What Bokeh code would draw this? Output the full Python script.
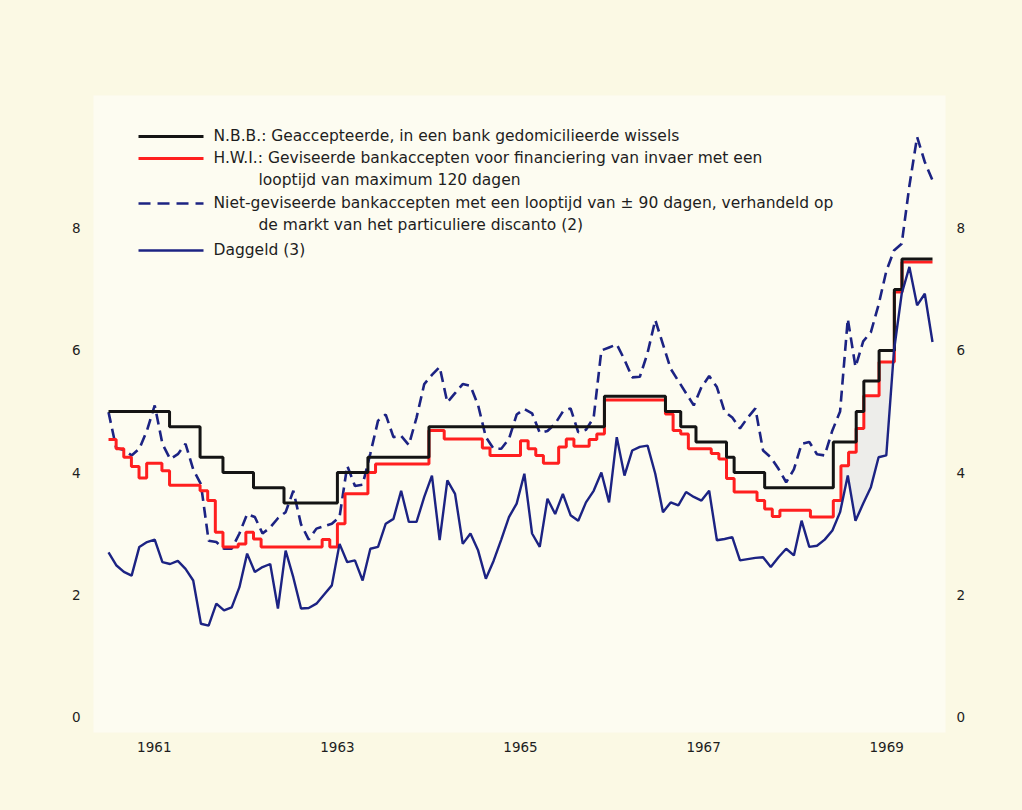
import numpy as np
from bokeh.plotting import figure
from bokeh.models import FixedTicker, LinearAxis, Range1d, Label, Arrow
from bokeh.embed import file_html
from bokeh.resources import INLINE

# ---------------- data (monthly, Jan 1961 - Dec 1969) ----------------
year_labels = ["1961", "1963", "1965", "1967", "1969"]
year_tick_pos = [1961.5, 1963.5, 1965.5, 1967.5, 1969.5]
y_ticks = [0, 2, 4, 6, 8]

nbb = [
    5.0, 5.0, 5.0, 5.0, 5.0, 5.0, 5.0, 5.0, 4.75, 4.75, 4.75, 4.75,
    4.25, 4.25, 4.25, 4.0, 4.0, 4.0, 4.0, 3.75, 3.75, 3.75, 3.75, 3.5,
    3.5, 3.5, 3.5, 3.5, 3.5, 3.5, 4.0, 4.0, 4.0, 4.0, 4.25, 4.25,
    4.25, 4.25, 4.25, 4.25, 4.25, 4.25, 4.75, 4.75, 4.75, 4.75, 4.75, 4.75,
    4.75, 4.75, 4.75, 4.75, 4.75, 4.75, 4.75, 4.75, 4.75, 4.75, 4.75, 4.75,
    4.75, 4.75, 4.75, 4.75, 4.75, 5.25, 5.25, 5.25, 5.25, 5.25, 5.25, 5.25,
    5.25, 5.0, 5.0, 4.75, 4.75, 4.5, 4.5, 4.5, 4.5, 4.25, 4.0, 4.0,
    4.0, 4.0, 3.75, 3.75, 3.75, 3.75, 3.75, 3.75, 3.75, 3.75, 3.75, 4.5,
    4.5, 4.5, 5.0, 5.5, 5.5, 6.0, 6.0, 7.0, 7.5, 7.5, 7.5, 7.5,
]

hwi = [
    4.54, 4.39, 4.25, 4.10, 3.91, 4.15, 4.15, 4.03, 3.79, 3.79, 3.79, 3.79,
    3.70, 3.54, 3.02, 2.78, 2.78, 2.83, 3.02, 2.91, 2.78, 2.78, 2.78, 2.78,
    2.78, 2.78, 2.78, 2.78, 2.90, 2.78, 3.16, 3.65, 3.65, 3.65, 4.00, 4.14,
    4.14, 4.14, 4.14, 4.14, 4.14, 4.14, 4.69, 4.69, 4.55, 4.55, 4.55, 4.55,
    4.55, 4.40, 4.28, 4.28, 4.28, 4.28, 4.52, 4.39, 4.28, 4.15, 4.15, 4.42,
    4.55, 4.43, 4.43, 4.54, 4.63, 5.19, 5.19, 5.19, 5.19, 5.19, 5.19, 5.19,
    5.19, 4.96, 4.69, 4.63, 4.39, 4.39, 4.39, 4.31, 4.22, 3.90, 3.68, 3.68,
    3.68, 3.54, 3.40, 3.28, 3.38, 3.38, 3.38, 3.38, 3.27, 3.27, 3.27, 3.54,
    4.11, 4.33, 4.72, 5.26, 5.26, 5.81, 5.81, 6.96, 7.45, 7.45, 7.45, 7.45,
]

niet = [
    4.99, 4.40, 4.37, 4.28, 4.39, 4.69, 5.10, 4.47, 4.22, 4.30, 4.47, 4.05,
    3.81, 2.88, 2.86, 2.75, 2.75, 3.00, 3.32, 3.27, 3.00, 3.10, 3.25, 3.35,
    3.70, 3.15, 2.90, 3.08, 3.12, 3.16, 3.27, 4.11, 3.78, 3.80, 4.31, 4.85,
    4.95, 4.58, 4.60, 4.45, 4.90, 5.45, 5.60, 5.73, 5.15, 5.30, 5.45, 5.42,
    5.10, 4.58, 4.39, 4.39, 4.55, 4.95, 5.04, 4.97, 4.65, 4.68, 4.80, 5.00,
    5.05, 4.66, 4.70, 4.90, 6.00, 6.05, 6.10, 5.85, 5.56, 5.57, 5.96, 6.50,
    6.10, 5.70, 5.50, 5.30, 5.10, 5.40, 5.58, 5.40, 5.00, 4.90, 4.72, 4.90,
    5.05, 4.36, 4.25, 4.06, 3.84, 4.05, 4.47, 4.50, 4.30, 4.28, 4.69, 5.00,
    6.52, 5.73, 6.15, 6.30, 6.75, 7.30, 7.64, 7.75, 8.70, 9.50, 9.09, 8.79,
]

daggeld = [
    2.69, 2.48, 2.37, 2.31, 2.78, 2.86, 2.90, 2.53, 2.50, 2.55, 2.42, 2.23,
    1.52, 1.49, 1.85, 1.74, 1.79, 2.12, 2.67, 2.37, 2.45, 2.50, 1.77, 2.72,
    2.28, 1.77, 1.78, 1.85, 2.00, 2.15, 2.83, 2.53, 2.56, 2.23, 2.75, 2.78,
    3.16, 3.24, 3.70, 3.19, 3.19, 3.60, 3.95, 2.89, 3.87, 3.65, 2.83, 3.00,
    2.72, 2.26, 2.55, 2.90, 3.27, 3.49, 3.98, 3.00, 2.78, 3.57, 3.32, 3.65,
    3.30, 3.21, 3.51, 3.70, 4.00, 3.51, 4.58, 3.95, 4.36, 4.42, 4.44, 3.98,
    3.35, 3.51, 3.46, 3.68, 3.60, 3.54, 3.70, 2.89, 2.91, 2.94, 2.56, 2.58,
    2.60, 2.61, 2.45, 2.61, 2.75, 2.64, 3.21, 2.78, 2.80, 2.90, 3.05, 3.35,
    3.95, 3.21, 3.49, 3.76, 4.25, 4.28, 6.00, 6.93, 7.37, 6.74, 6.93, 6.14,
]

legend_texts = [
    "N.B.B.: Geaccepteerde, in een bank gedomicilieerde wissels",
    "H.W.I.: Geviseerde bankaccepten voor financiering van invaer met een",
    "looptijd van maximum 120 dagen",
    "Niet-geviseerde bankaccepten met een looptijd van \u00b1 90 dagen, verhandeld op",
    "de markt van het particuliere discanto  (2)",
    "Daggeld  (3)",
]

# ---------------- styling ----------------
PAGE_BG = "#fbf9e4"
PANEL_BG = "#fdfcf1"
SHADE = "#ededea"
BLACK = "#141414"
RED = "#ff1f1f"
NAVY = "#1c2383"
TEXT = "#1e1e1e"
FONT = "DejaVu Sans"

X0, X1 = 1960.836, 1970.142
Y0, Y1 = -0.262, 10.18

p = figure(width=1014, height=802, output_backend="svg", toolbar_location=None,
           x_range=Range1d(X0, X1), y_range=Range1d(Y0, Y1),
           min_border_left=93, min_border_right=69, min_border_top=95,
           min_border_bottom=70, x_axis_location=None, y_axis_location=None)
p.background_fill_color = PANEL_BG
p.border_fill_color = PAGE_BG
p.outline_line_color = None
p.grid.visible = False


def style_axis(ax, standoff):
    ax.axis_line_color = None
    ax.major_tick_line_color = None
    ax.minor_tick_line_color = None
    ax.major_tick_out = 0
    ax.major_tick_in = 0
    ax.major_label_standoff = standoff
    ax.major_label_text_font = FONT
    ax.major_label_text_font_size = "13.5px"
    ax.major_label_text_color = TEXT


xaxis = LinearAxis(ticker=FixedTicker(ticks=year_tick_pos),
                   major_label_overrides={t: l for t, l in zip(year_tick_pos, year_labels)})
style_axis(xaxis, 9)
p.add_layout(xaxis, "below")

for side, so in (("left", 13), ("right", 11)):
    ax = LinearAxis(ticker=FixedTicker(ticks=y_ticks))
    style_axis(ax, so)
    p.add_layout(ax, side)

# x positions
n = len(nbb)
month_start = 1961 + np.arange(n) / 12.0
step_x = np.append(month_start, 1970.0)
line_x = 1961 + np.arange(n) * 9.0 / (n - 1)

# light shading between H.W.I. and daggeld during the 1968-69 rise
gx = np.linspace(1961 + 95.4 / 12, 1961 + 102.9 / 12, 300)
g_top = np.asarray(hwi)[np.clip(((gx - 1961) * 12).astype(int), 0, n - 1)]
g_bot = np.interp(gx, line_x, daggeld)
p.varea(x=gx, y1=g_bot, y2=np.maximum(g_top, g_bot), fill_color=SHADE)

p.line(line_x, niet, line_color=NAVY, line_width=2.6, line_dash="11 6")
p.step(step_x, np.append(hwi, hwi[-1]), mode="after", line_color=RED, line_width=3)
p.step(step_x, np.append(nbb, nbb[-1]), mode="after", line_color=BLACK, line_width=3)
p.line(line_x, daggeld, line_color=NAVY, line_width=2.4)

# ---------------- legend (layout in page pixels) ----------------
PX_PER_YEAR = 91.56
PX_PER_UNIT = 61.0


def px_x(px):
    return 1961 + (px - 108) / PX_PER_YEAR


def px_y(py):
    return (716 - py) / PX_PER_UNIT


samples = [(136, BLACK, "solid", 3), (158, RED, "solid", 3),
           (203, NAVY, "12 7", 2.6), (250, NAVY, "solid", 2.4)]
for py, col, dash, w in samples:
    p.add_layout(Arrow(end=None, x_start=px_x(138), x_end=px_x(203),
                       y_start=px_y(py), y_end=px_y(py),
                       line_color=col, line_width=w, line_dash=dash))

text_rows = [(213, 136), (213, 158), (258, 180), (213, 203), (258, 225), (213, 250)]
for (px, py), txt in zip(text_rows, legend_texts):
    p.add_layout(Label(x=px_x(px), y=px_y(py), text=txt, text_font=FONT,
                       text_font_size="15.5px", text_color=TEXT,
                       text_baseline="middle", text_align="left"))

html = file_html(p, INLINE)
html = html.replace("</head>", "<style>html,body{background:%s;}</style></head>" % PAGE_BG, 1)
open("out.html", "w").write(html)
